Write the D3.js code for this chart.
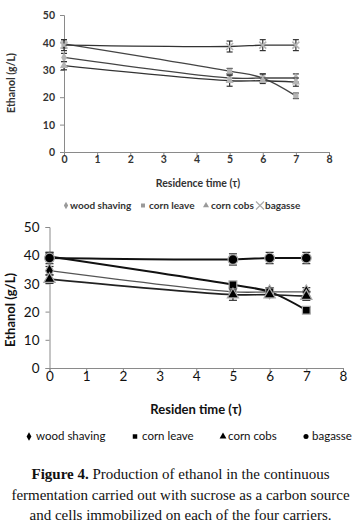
<!DOCTYPE html>
<html lang="en">
<head>
<meta charset="UTF-8" />
<title>Figure 4</title>
<script src="https://cdn.jsdelivr.net/npm/d3@7"></script>
<style>
  body { margin: 0; background: #fff; }
  svg { display: block; }
</style>
</head>
<body>
<div id="container"></div>
<script>
// residence time (x) and ethanol g/L for each carrier
const times = [0, 5, 6, 7]
const woodShaving = [34.5, 27, 27, 27]
const cornLeave = [39.5, 29.5, 27, 20.5]
const cornCobs = [31.5, 26, 26, 25.5]
const bagasse = [39, 38.5, 39, 39]
const woodErr = [1.5, 1.5, 1.5, 1.5]
const leaveErr = [1.5, 1, 1.5, 1]
const cobsErr = [1.5, 2, 1, 1.5]
const bagasseErr = [2, 2, 2, 2]
const seriesNames = ['wood shaving', 'corn leave', 'corn cobs', 'bagasse']
const topLegendNames = ['wood shaving', 'corn leave', 'corn cobs', 'bagasse']
const yTicks = [0, 10, 20, 30, 40, 50]
const xTicks = [0, 1, 2, 3, 4, 5, 6, 7, 8]
const captionLines = [
  ['Figure 4.', ' Production of ethanol in the continuous'],
  ['', 'fermentation carried out with sucrose as a carbon source'],
  ['', 'and cells immobilized on each of the four carriers.'],
]

const series = [
  { name: seriesNames[0], values: woodShaving, err: woodErr, shape: 'diamond' },
  { name: seriesNames[1], values: cornLeave, err: leaveErr, shape: 'square' },
  { name: seriesNames[2], values: cornCobs, err: cobsErr, shape: 'triangle' },
  { name: seriesNames[3], values: bagasse, err: bagasseErr, shape: 'circle' },
]

const W = 361, H = 524
const svg = d3.select('#container').append('svg').attr('width', W).attr('height', H)

const symbolFor = (shape) => ({
  diamond: d3.symbolDiamond,
  square: d3.symbolSquare,
  triangle: d3.symbolTriangle,
  circle: d3.symbolCircle,
}[shape])

const drawPanel = (opt) => {
  const x = d3.scaleLinear().domain([0, 8]).range(opt.xRange)
  const y = d3.scaleLinear().domain([0, 50]).range(opt.yRange)
  const g = svg.append('g')

  // axes
  const xAxis = g.append('g')
    .attr('transform', `translate(0,${opt.yRange[0]})`)
    .call(d3.axisBottom(x).tickValues(xTicks).tickSize(4).tickFormat(d3.format('d')))
  const yAxis = g.append('g')
    .attr('transform', `translate(${opt.xRange[0]},0)`)
    .call(d3.axisLeft(y).tickValues(yTicks).tickSize(4))
  ;[xAxis, yAxis].forEach((a) => {
    a.select('.domain').attr('stroke', opt.axisColor).attr('stroke-width', 1)
    a.selectAll('.tick line').attr('stroke', opt.axisColor)
    a.selectAll('.tick text')
      .attr('fill', opt.textColor)
      .style('font-family', opt.font)
      .style('font-size', opt.tickSize + 'px')
      .style('font-weight', opt.tickWeight)
  })
  xAxis.selectAll('.tick text').attr('dy', null).attr('y', opt.xTickDy)
  yAxis.selectAll('.tick text').attr('x', opt.yTickDx).attr('dy', '0.35em')

  // axis titles
  g.append('text')
    .attr('x', opt.xTitle[0]).attr('y', opt.xTitle[1])
    .attr('text-anchor', 'middle')
    .attr('fill', opt.textColor)
    .style('font-family', opt.font).style('font-weight', 'bold')
    .style('font-size', opt.titleSize + 'px')
    .text(opt.xTitleText)
  g.append('text')
    .attr('transform', `translate(${opt.yTitle[0]},${opt.yTitle[1]}) rotate(-90)`)
    .attr('text-anchor', 'middle')
    .attr('fill', opt.textColor)
    .style('font-family', opt.font).style('font-weight', 'bold')
    .style('font-size', opt.titleSize + 'px')
    .text('Ethanol (g/L)')

  const line = d3.line()
    .x((d) => x(d[0]))
    .y((d) => y(d[1]))
    .curve(d3.curveCatmullRom.alpha(0.5))

  series.forEach((s, si) => {
    const pts = times.map((t, i) => [t, s.values[i], s.err[i]])
    g.append('path')
      .attr('d', line(pts))
      .attr('fill', 'none')
      .attr('stroke', opt.lineColor[si])
      .attr('stroke-width', opt.lineWidth[si])

    // error bars
    const eb = g.append('g').attr('stroke', opt.errColor).attr('stroke-width', 1.2)
    pts.forEach((p) => {
      const cx = x(p[0])
      eb.append('line').attr('x1', cx).attr('x2', cx).attr('y1', y(p[1] - p[2])).attr('y2', y(p[1] + p[2]))
      ;[p[1] - p[2], p[1] + p[2]].forEach((v) => {
        eb.append('line').attr('x1', cx - opt.capW).attr('x2', cx + opt.capW).attr('y1', y(v)).attr('y2', y(v))
      })
    })

    // markers
    pts.forEach((p) => {
      const cx = x(p[0]), cy = y(p[1])
      if (opt.topStyle && s.shape === 'circle') {
        const r = 3.5
        g.append('path')
          .attr('d', `M${cx - r},${cy - r}L${cx + r},${cy + r}M${cx - r},${cy + r}L${cx + r},${cy - r}`)
          .attr('stroke', opt.markerFill).attr('stroke-width', 1.5)
      } else {
        g.append('path')
          .attr('transform', `translate(${cx},${cy})`)
          .attr('d', d3.symbol().type(symbolFor(s.shape)).size(opt.markerSize[si])())
          .attr('fill', opt.markerFill)
          .attr('stroke', opt.markerStroke)
          .attr('stroke-width', opt.markerStrokeW)
      }
    })
  })

  // legend
  const lg = g.append('g')
  opt.legendItems.forEach((it, i) => {
    const s = series[i]
    if (opt.topStyle && s.shape === 'circle') {
      const r = 4, cx = it[0], cy = opt.legendY - 3.5
      lg.append('path')
        .attr('d', `M${cx - r},${cy - r}L${cx + r},${cy + r}M${cx - r},${cy + r}L${cx + r},${cy - r}`)
        .attr('stroke', '#aaa').attr('stroke-width', 1.2)
    } else {
      lg.append('path')
        .attr('transform', `translate(${it[0]},${opt.legendY - 3.5})`)
        .attr('d', d3.symbol().type(symbolFor(s.shape)).size(opt.legendMarkerSize)())
        .attr('fill', opt.legendMarkerFill)
    }
    lg.append('text')
      .attr('x', it[1]).attr('y', opt.legendY)
      .attr('fill', opt.textColor)
      .style('font-family', opt.font)
      .style('font-size', opt.legendSize + 'px')
      .style('font-weight', opt.legendWeight)
      .text(opt.legendNames[i])
  })
}

// top panel (grey markers, bold text)
drawPanel({
  topStyle: true,
  xRange: [64, 329],
  yRange: [152, 15],
  axisColor: '#8a8a8a',
  textColor: '#333',
  font: 'Lato, "Open Sans", sans-serif',
  tickSize: 10.5,
  tickWeight: 'bold',
  xTickDy: 11,
  yTickDx: -9,
  titleSize: 10.5,
  xTitle: [198, 187],
  xTitleText: 'Residence time (τ)',
  yTitle: [15, 83],
  lineColor: ['#444', '#444', '#333', '#333'],
  lineWidth: [1.3, 1.3, 1.3, 1.3],
  errColor: '#333',
  capW: 3,
  markerFill: '#b5b5b5',
  markerStroke: 'none',
  markerStrokeW: 0,
  markerSize: [28, 28, 28, 28],
  legendItems: [[66, 70], [143, 149], [206, 211], [260, 265]],
  legendY: 209,
  legendNames: topLegendNames,
  legendMarkerSize: 16,
  legendMarkerFill: '#9a9a9a',
  legendSize: 10,
  legendWeight: 'bold',
})

// bottom panel (black markers)
drawPanel({
  topStyle: false,
  xRange: [49.5, 343],
  yRange: [368, 227],
  axisColor: '#8a8a8a',
  textColor: '#111',
  font: 'Lato, "Open Sans", sans-serif',
  tickSize: 13.5,
  tickWeight: 'normal',
  xTickDy: 13,
  yTickDx: -10,
  titleSize: 13,
  xTitle: [196, 414],
  xTitleText: 'Residen time (τ)',
  yTitle: [15, 310],
  lineColor: ['#555', '#111', '#222', '#111'],
  lineWidth: [1.3, 2, 1.6, 2],
  errColor: '#333',
  capW: 4,
  markerFill: '#000',
  markerStroke: '#aaa',
  markerStrokeW: 1.2,
  markerSize: [55, 60, 55, 75],
  legendItems: [[29, 36], [135, 142], [223, 228], [306, 312]],
  legendY: 440,
  legendNames: seriesNames,
  legendMarkerSize: 20,
  legendMarkerFill: '#000',
  legendSize: 11.5,
  legendWeight: 'normal',
})

// caption
const cap = svg.append('g')
captionLines.forEach((ln, i) => {
  const t = cap.append('text')
    .attr('x', 180.5).attr('y', 479 + i * 20.5)
    .attr('text-anchor', 'middle')
    .attr('fill', '#111')
    .style('font-family', '"Liberation Serif", "Times New Roman", serif')
    .style('font-size', '15px')
  if (ln[0]) t.append('tspan').style('font-weight', 'bold').text(ln[0])
  t.append('tspan').text(ln[1])
})
</script>
</body>
</html>
